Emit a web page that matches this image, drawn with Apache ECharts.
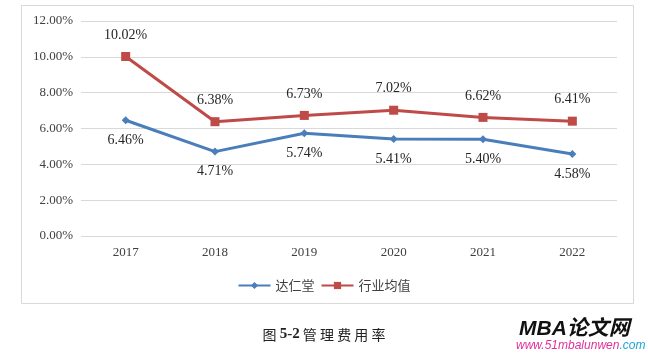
<!DOCTYPE html>
<html>
<head>
<meta charset="utf-8">
<script src="https://cdn.jsdelivr.net/npm/echarts@6/dist/echarts.min.js"></script>
<style>
  html, body { margin: 0; padding: 0; background: #fff; }
  #chart { width: 648px; height: 353px; }
</style>
</head>
<body>
<div id="chart"></div>
<script>
// 数据
const years = ['2017', '2018', '2019', '2020', '2021', '2022'];
const darentang = [6.46, 4.71, 5.74, 5.41, 5.40, 4.58];
const industryAvg = [10.02, 6.38, 6.73, 7.02, 6.62, 6.41];
const seriesNames = ['达仁堂', '行业均值'];

const serif = '"Liberation Serif", "Times New Roman", serif';
const cjk = '"Noto Sans CJK SC", sans-serif';

const chart = echarts.init(document.getElementById('chart'), null, { renderer: 'canvas' });

const pct = (p) => p.value.toFixed(2) + '%';

chart.setOption({
  backgroundColor: '#ffffff',
  animation: false,
  grid: { left: 81, right: 31, top: 21, bottom: 117 },
  legend: {
    data: seriesNames,
    left: 'center',
    top: 274,
    itemWidth: 32,
    itemHeight: 9,
    itemGap: 6,
    textStyle: { fontFamily: cjk, fontSize: 13, color: '#404040' }
  },
  xAxis: {
    type: 'category',
    data: years,
    axisLine: { show: false },
    axisTick: { show: false },
    axisLabel: { fontFamily: serif, fontSize: 13, color: '#404040', margin: 10 }
  },
  yAxis: {
    type: 'value',
    min: 0,
    max: 12,
    interval: 2,
    axisLine: { show: false },
    axisTick: { show: false },
    axisLabel: {
      fontFamily: serif, fontSize: 13, color: '#404040', margin: 8,
      formatter: (v) => v.toFixed(2) + '%'
    },
    splitLine: { lineStyle: { color: '#d9d9d9', width: 1 } }
  },
  series: [
    {
      name: seriesNames[0],
      type: 'line',
      data: darentang,
      symbol: 'diamond',
      symbolSize: 8,
      itemStyle: { color: '#4a7ebb' },
      lineStyle: { color: '#4a7ebb', width: 3 },
      label: {
        show: true, position: 'bottom', distance: 9,
        fontFamily: serif, fontSize: 14, color: '#262626',
        formatter: pct
      }
    },
    {
      name: seriesNames[1],
      type: 'line',
      data: industryAvg,
      symbol: 'rect',
      symbolSize: 9,
      itemStyle: { color: '#be4b48' },
      lineStyle: { color: '#be4b48', width: 3 },
      label: {
        show: true, position: 'top', distance: 10,
        fontFamily: serif, fontSize: 14, color: '#262626',
        formatter: pct
      }
    }
  ],
  graphic: [
    {
      type: 'rect',
      shape: { x: 21.5, y: 5.5, width: 612, height: 298 },
      style: { fill: 'none', stroke: '#d9d9d9', lineWidth: 1 },
      silent: true
    },
    {
      type: 'text',
      left: 'center',
      top: 327,
      style: {
        text: '{a|图 }{b|5-2}{a| 管 理 费 用 率}',
        rich: {
          a: { fontFamily: cjk, fontSize: 14, fill: '#222' },
          b: { fontFamily: serif, fontSize: 15, fontWeight: 'bold', fill: '#222' }
        }
      }
    },
    {
      type: 'text',
      left: 519,
      top: 319,
      style: {
        text: 'MBA论文网',
        font: 'italic bold 21px "Liberation Sans", "Noto Sans CJK SC", sans-serif',
        fill: '#111'
      }
    },
    {
      type: 'text',
      left: 516,
      top: 340,
      style: {
        text: '{p|www.51mbalunwen}{c|.com}',
        rich: {
          p: { fontFamily: '"Liberation Sans", sans-serif', fontStyle: 'italic', fontSize: 12, fill: '#e0309a' },
          c: { fontFamily: '"Liberation Sans", sans-serif', fontStyle: 'italic', fontSize: 12, fill: '#1aa7d6' }
        }
      }
    }
  ]
});
</script>
</body>
</html>
